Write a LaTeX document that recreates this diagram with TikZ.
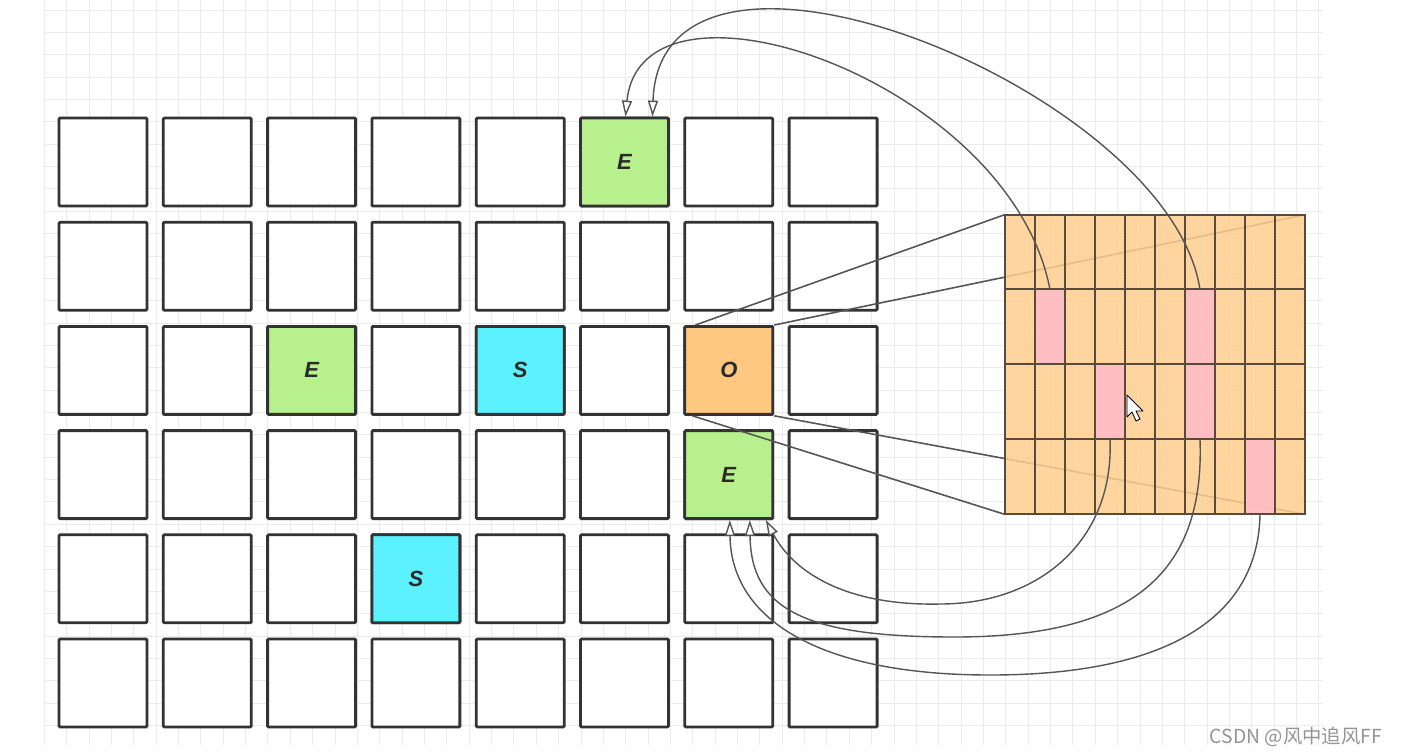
\documentclass[tikz,border=0pt]{standalone}
\usepackage{fontspec}
\setsansfont{Liberation Sans}
\newfontfamily\cjkfont{Noto Sans CJK SC}
\usetikzlibrary{arrows.meta,calc}
\definecolor{gridgray}{HTML}{EBEBEB}
\definecolor{boxline}{HTML}{333333}
\definecolor{letter}{HTML}{2A2A2A}
\definecolor{egreen}{HTML}{B8F08E}
\definecolor{scyan}{HTML}{5CF1FF}
\definecolor{oorange}{HTML}{FFC880}
\definecolor{panelfill}{HTML}{FFCE8F}
\definecolor{panelline}{HTML}{5A4A3C}
\definecolor{pinkc}{HTML}{FFBAC9}
\definecolor{linkgray}{HTML}{555555}

\begin{document}
\begin{tikzpicture}[x=0.02cm,y=-0.02cm,
  gridline/.style={draw=gridgray,line width=0.5pt},
  cellbox/.style={draw=boxline,line width=1.6pt,fill=white,minimum size=1.76cm,inner sep=0pt,
    rounded corners=0.6pt,text=letter,font=\sffamily\bfseries\itshape\fontsize{12.5}{14}\selectfont},
  link/.style={draw=linkgray,line width=0.9pt},
  panelgrid/.style={draw=panelline,line width=1.2pt},
  pinkcell/.style={fill=pinkc,fill opacity=0.85,minimum width=0.6cm,minimum height=1.495cm,inner sep=0pt},
  jump/.style={draw=linkgray,line width=0.8pt,-{Triangle[width=0.2cm,length=0.32cm,fill=white]}}]
\useasboundingbox (0,0) rectangle (1403,755);
\fill[white] (0,0) rectangle (1403,755);
\foreach \k in {0,...,57}{\draw[gridline] ({44.3+22.36*\k},0) -- ({44.3+22.36*\k},745);}
\foreach \k in {0,...,32}{\draw[gridline] (45,{10+22.36*\k}) -- (1323,{10+22.36*\k});}

\foreach \i in {0,...,5}{
  \foreach \j in {0,...,7}{\node[cellbox] (c\i\j) at ({103+104.3*\j},{162+104.2*\i}) {};}
}
\node[cellbox,fill=egreen] (E1) at (c05) {E};
\node[cellbox,fill=egreen] (E2) at (c22) {E};
\node[cellbox,fill=scyan] (S1) at (c24) {S};
\node[cellbox,fill=oorange] (O) at (c26) {O};
\node[cellbox,fill=egreen] (E3) at (c36) {E};
\node[cellbox,fill=scyan] (S2) at (c43) {S};

\node[minimum width=6cm,minimum height=5.98cm,inner sep=0pt] (panel) at (1155,364.5) {};
\draw[link] ($(O.north west)+(12,0)$) -- (panel.north west);
\draw[link] (O.north east) -- (panel.north east);
\draw[link] ($(O.south west)+(9,0)$) -- (panel.south west);
\draw[link] (O.south east) -- (panel.south east);
\fill[panelfill,fill opacity=0.85] (panel.north west) rectangle (panel.south east);

\node[pinkcell] (pk1) at (1050,327.4) {};
\node[pinkcell] (pk2) at (1200,327.4) {};
\node[pinkcell] (pk3) at (1110,402.1) {};
\node[pinkcell] (pk4) at (1200,402.1) {};
\node[pinkcell] (pk5) at (1260,476.9) {};
\foreach \k in {1,...,9}{\draw[panelgrid] ($(panel.north west)+(30*\k,0)$) -- ($(panel.south west)+(30*\k,0)$);}
\foreach \k in {1,2,3}{\draw[panelgrid] ($(panel.north west)+(0,74.75*\k)$) -- ($(panel.north east)+(0,74.75*\k)$);}
\draw[panelline,line width=1.3pt] (panel.north west) rectangle (panel.south east);
\draw[fill=white,draw=black,line width=0.5pt,line join=round] (1127,395) -- (1127,417) -- (1132,412) -- (1136,421) -- (1140,419) -- (1136,411) -- (1143,411) -- cycle;

\draw[jump] (pk1.north) .. controls (1010,80) and (641,-45) .. ($(E1.north)+(1,0)$);
\draw[jump] (pk2.north) .. controls (1170,90) and (660,-115) .. ($(E1.north)+(28,0)$);
\draw[jump] (pk3.south) .. controls (1114,538) and (1042,604) .. (940,604) .. controls (850,606) and (795,575) .. ($(E3.south)+(37,0)$);
\draw[jump] (pk4.south) .. controls (1205,578) and (1126,637) .. (954,637) .. controls (802,637) and (751,608) .. ($(E3.south)+(21,0)$);
\draw[jump] (pk5.south) .. controls (1258,619) and (1165,675) .. (990,675) .. controls (822,675) and (731,621) .. ($(E3.south)+(1,0)$);

\node[text=black!42,anchor=east,font=\cjkfont\fontsize{11}{13}\selectfont] (mark) at (1388,737) {CSDN @风中追风FF};
\end{tikzpicture}
\end{document}
